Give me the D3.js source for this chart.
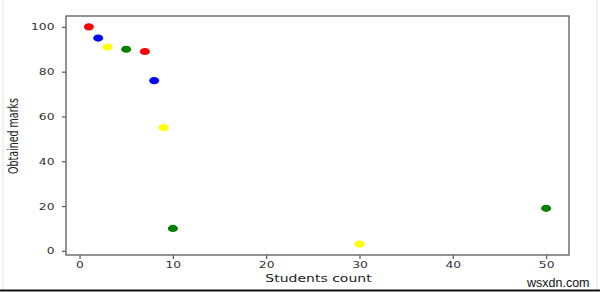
<!DOCTYPE html>
<html>
<head>
<meta charset="utf-8">
<script src="https://cdn.jsdelivr.net/npm/d3@7"></script>
<style>
  html, body { margin: 0; padding: 0; background: #fff; }
  svg { display: block; }
</style>
</head>
<body>
<div id="scatter-chart"></div>
<script>
// data
const studentsCount = [1, 2, 3, 5, 7, 8, 9, 10, 30, 50];
const obtainedMarks = [100, 95, 91, 90, 89, 76, 55, 10, 3, 19];
const pointColors = ["red", "blue", "yellow", "green", "red", "blue", "yellow", "green", "yellow", "green"];
const xTicks = [0, 10, 20, 30, 40, 50];
const yTicks = [0, 20, 40, 60, 80, 100];

const width = 600, height = 292;
// the picture is stretched sideways, so text gets the same stretch
const stretch = 1.45;

const svg = d3.select("#scatter-chart")
  .append("svg")
  .attr("width", width)
  .attr("height", height);

const box = { left: 66, right: 569, top: 16, bottom: 255 };

const x = d3.scaleLinear()
  .domain([-1.45, 52.45])
  .range([box.left, box.right]);

const y = d3.scaleLinear()
  .domain([-1.85, 104.85])
  .range([box.bottom, box.top]);

// outer frame of the picture
svg.append("line")
  .attr("x1", 3).attr("x2", 3).attr("y1", 0).attr("y2", 289)
  .attr("stroke", "#e2e2e2");
svg.append("line")
  .attr("x1", 597).attr("x2", 597).attr("y1", 0).attr("y2", 289)
  .attr("stroke", "#e2e2e2");
svg.append("line")
  .attr("x1", 0).attr("x2", width).attr("y1", 290.5).attr("y2", 290.5)
  .attr("stroke", "#111").attr("stroke-width", 2);

const xAxis = svg.append("g")
  .attr("transform", `translate(0, ${box.bottom})`)
  .call(d3.axisBottom(x).tickValues(xTicks).tickSize(4).tickSizeOuter(0).tickPadding(3));

const yAxis = svg.append("g")
  .attr("transform", `translate(${box.left}, 0)`)
  .call(d3.axisLeft(y).tickValues(yTicks).tickSize(4).tickSizeOuter(0));

[xAxis, yAxis].forEach(g => {
  g.select(".domain").remove();
  g.selectAll(".tick line").attr("stroke", "#555").attr("stroke-width", 1.2);
  g.selectAll(".tick text")
    .attr("fill", "#333")
    .attr("font-family", "DejaVu Sans")
    .attr("font-size", 8.5);
});

xAxis.selectAll(".tick text")
  .attr("dy", "0.71em")
  .attr("transform", `scale(${stretch},1)`);

yAxis.selectAll(".tick text")
  .attr("x", -11.5 / stretch)
  .attr("dy", "0.36em")
  .attr("transform", `scale(${stretch},1)`);

// spines
svg.append("rect")
  .attr("x", box.left)
  .attr("y", box.top)
  .attr("width", box.right - box.left)
  .attr("height", box.bottom - box.top)
  .attr("fill", "none")
  .attr("stroke", "#666")
  .attr("stroke-width", 1.4);

svg.selectAll(".dot")
  .data(studentsCount.map((d, i) => ({ count: d, marks: obtainedMarks[i], color: pointColors[i] })))
  .enter()
  .append("ellipse")
  .attr("class", "dot")
  .attr("cx", d => x(d.count))
  .attr("cy", d => y(d.marks))
  .attr("rx", 5)
  .attr("ry", 3.6)
  .attr("fill", d => d.color);

svg.append("text")
  .attr("transform", `translate(${(box.left + box.right) / 2 + 1}, 282) scale(${stretch - 0.05},1)`)
  .attr("text-anchor", "middle")
  .attr("font-family", "DejaVu Sans")
  .attr("font-size", 10)
  .attr("fill", "#222")
  .text("Students count");

svg.append("text")
  .attr("transform", `translate(18, 136) scale(${stretch},1) rotate(-90)`)
  .attr("text-anchor", "middle")
  .attr("font-family", "DejaVu Sans")
  .attr("font-size", 9.5)
  .attr("fill", "#222")
  .text("Obtained marks");

svg.append("text")
  .attr("x", 527)
  .attr("y", 287)
  .attr("font-family", "Liberation Sans")
  .attr("font-size", 12.5)
  .attr("fill", "#111")
  .text("wsxdn.com");
</script>
</body>
</html>
